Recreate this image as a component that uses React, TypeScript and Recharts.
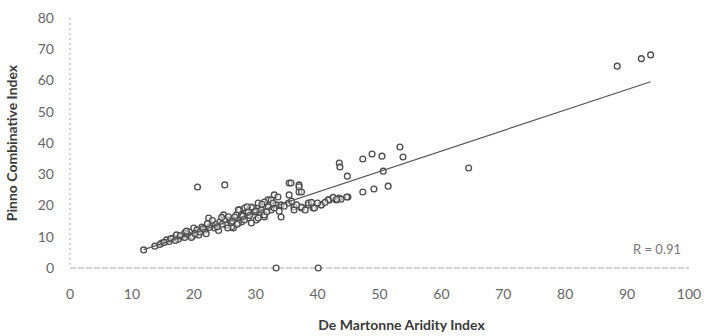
import React from 'react';
import { ScatterChart, Scatter, XAxis, YAxis, Label } from 'recharts';

// De Martonne aridity index (x) vs Pinna combinative index (y)
const aridity = [
  11.9, 13.7, 14.8, 15.6, 16.7, 17.2, 18.0, 18.5, 19.3, 20.0, 20.5, 20.8, 21.3, 21.8, 22.4, 22.9,
  23.4, 24.2, 24.8, 25.3, 25.8, 26.4, 26.9, 27.4, 27.7, 28.5, 28.8, 29.6, 30.1, 30.6, 31.2, 31.4,
  32.0, 32.5, 33.0, 33.3, 34.1, 35.4, 37.0, 37.0, 36.2, 37.4, 38.5, 39.3, 40.6, 41.9, 43.5, 44.9,
  35.7, 37.0, 37.4, 35.4, 33.6, 32.5, 31.4, 30.4, 29.3, 28.2, 27.2, 26.6, 27.7, 28.8, 29.8, 30.9,
  32.0, 33.0, 34.1, 35.3, 36.2, 37.4, 38.5, 39.5, 40.6, 41.7, 43.0, 27.2, 28.2, 29.3, 30.4, 26.1,
  31.4, 16.0, 17.5, 18.5, 19.0, 19.8, 21.0, 22.0, 22.5, 23.5, 24.0, 25.0, 25.5, 26.0, 24.5, 23.0,
  14.5, 15.2, 16.3, 17.0, 17.8, 18.8, 19.6, 20.2, 21.5, 22.2, 23.8, 24.6, 25.6, 26.2, 27.0, 27.9,
  28.6, 29.0, 30.0, 31.0, 31.8, 32.8, 33.8, 34.6, 35.8, 36.6, 38.0, 39.0, 40.0, 41.2, 42.5,
  20.6, 25.0, 33.3, 40.1, 43.5, 43.6, 44.8, 47.3, 48.8, 50.4, 50.6, 53.3, 53.8, 64.4, 51.4, 49.1,
  47.3, 44.7, 43.8, 43.1, 88.4, 92.3, 93.8,
];
const pinna = [
  5.8, 7.0, 8.0, 9.0, 9.6, 10.6, 10.0, 11.2, 11.5, 12.8, 12.2, 10.6, 13.1, 12.2, 16.0, 13.8,
  12.8, 14.7, 17.0, 13.8, 15.4, 12.8, 17.0, 18.6, 14.7, 17.9, 16.0, 19.2, 15.4, 17.9, 19.5, 16.3,
  21.8, 18.6, 23.4, 20.2, 16.3, 27.2, 26.6, 24.3, 19.5, 19.2, 20.2, 19.2, 20.2, 21.8, 22.4, 22.7,
  27.2, 26.0, 24.3, 23.4, 22.7, 21.8, 21.1, 20.8, 19.5, 19.2, 18.6, 16.3, 17.0, 17.9, 17.9, 18.6,
  19.5, 19.2, 20.2, 20.8, 18.6, 19.5, 20.8, 19.2, 20.2, 21.8, 21.8, 14.4, 15.4, 14.4, 16.0, 13.1,
  17.0, 8.5, 9.2, 9.8, 10.8, 10.2, 11.5, 11.0, 13.0, 14.0, 12.0, 15.5, 12.8, 14.5, 16.2, 15.2,
  7.5, 8.2, 9.4, 8.8, 10.4, 11.8, 9.8, 11.0, 12.6, 14.2, 13.2, 14.0, 16.4, 15.0, 14.0, 16.6,
  19.6, 16.8, 18.2, 20.4, 18.0, 20.8, 18.2, 19.8, 21.4, 20.2, 18.6, 21.0, 20.8, 21.0, 22.6,
  25.9, 26.6, 0, 0, 33.6, 32.3, 29.4, 34.9, 36.5, 35.8, 31.0, 38.7, 35.5, 32.0, 26.2, 25.3,
  24.3, 22.7, 22.0, 22.0, 64.6, 67.0, 68.2,
];

// linear trendline end points as drawn
const trendX = [11.9, 93.8];
const trendY = [5.9, 59.6];

const xTicks = [0, 10, 20, 30, 40, 50, 60, 70, 80, 90, 100];
const yTicks = [0, 10, 20, 30, 40, 50, 60, 70, 80];

const points = aridity.map((x, i) => ({ x, y: pinna[i] }));
const trend = trendX.map((x, i) => ({ x, y: trendY[i] }));

const font = 'Lato, "Open Sans", sans-serif';

const Ring = (props: any) => {
  const { cx, cy } = props;
  if (cx == null || cy == null) return <g />;
  return <circle cx={cx} cy={cy} r={2.9} fill="#fff" fillOpacity={0.5} stroke="#4d4d4d" strokeWidth={1.3} />;
};

export default function App() {
  return (
    <div style={{ position: 'absolute', left: 0, top: 0, width: 711, height: 336, background: '#fff' }}>
      <ScatterChart width={711} height={336} margin={{ top: 18, right: 22, bottom: 0, left: 0 }}>
        <XAxis
          type="number"
          dataKey="x"
          domain={[0, 100]}
          ticks={xTicks}
          height={68}
          tickLine={false}
          tickMargin={15}
          axisLine={{ stroke: '#aaa', strokeDasharray: '6 2' }}
          tick={{ fontSize: 14, fill: '#666', fontFamily: font }}
        >
          <Label
            value="De Martonne Aridity Index"
            position="insideBottom"
            offset={6}
            dx={22}
            style={{ fontSize: 14, fontWeight: 700, fill: '#3a3a3a', fontFamily: font }}
          />
        </XAxis>
        <YAxis
          type="number"
          dataKey="y"
          domain={[0, 80]}
          ticks={yTicks}
          width={70}
          tickLine={false}
          tickMargin={10}
          axisLine={{ stroke: '#aaa', strokeDasharray: '2 3' }}
          tick={{ fontSize: 14, fill: '#666', fontFamily: font }}
        >
          <Label
            value="Pinno Combinative Index"
            angle={-90}
            position="insideLeft"
            offset={12}
            style={{ textAnchor: 'middle', fontSize: 14, fontWeight: 700, fill: '#3a3a3a', fontFamily: font }}
          />
        </YAxis>
        <Scatter data={points} shape={Ring} isAnimationActive={false} />
        <Scatter
          data={trend}
          line={{ stroke: '#555', strokeWidth: 1.2 }}
          shape={() => <g />}
          isAnimationActive={false}
        />
      </ScatterChart>
      <div
        style={{
          position: 'absolute',
          left: 633,
          top: 241,
          fontSize: 13,
          color: '#777',
          fontFamily: font,
          whiteSpace: 'nowrap',
        }}
      >
        R = 0.91
      </div>
    </div>
  );
}
